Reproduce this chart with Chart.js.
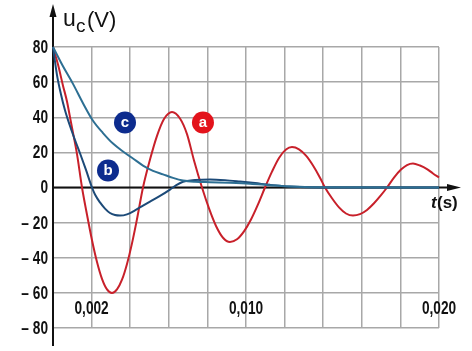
<!DOCTYPE html>
<html lang="de">
<head>
<meta charset="UTF-8">
<title>u_c(t)</title>
<script src="https://cdn.jsdelivr.net/npm/chart.js"></script>
<style>
  body { margin: 0; background: #fff; }
  #wrap { width: 472px; height: 351px; }
</style>
</head>
<body>
<div id="wrap"><canvas id="chart" width="472" height="351"></canvas></div>
<script>
// curve a (red)
const tA = [0, 0.000259, 0.000518, 0.000725, 0.000933, 0.001244, 0.001503, 0.001762, 0.002021, 0.002280,
  0.002539, 0.002798, 0.003057, 0.003316, 0.003575, 0.003834, 0.004093, 0.004352, 0.004663, 0.005026,
  0.005389, 0.005751, 0.006166, 0.006580, 0.006943, 0.007306, 0.007720, 0.008083, 0.008446, 0.008808,
  0.009171, 0.009534, 0.009896, 0.010259, 0.010622, 0.010984, 0.011347, 0.011710, 0.012073, 0.012383,
  0.012746, 0.013109, 0.013472, 0.013834, 0.014093, 0.014456, 0.014819, 0.015181, 0.015544, 0.015907,
  0.016269, 0.016632, 0.016995, 0.017306, 0.017668, 0.018031, 0.018342, 0.018653, 0.019016, 0.019378,
  0.019689, 0.020000];
const uA = [80, 70, 58, 49, 37, 19, 0, -15.5, -30, -42.4,
  -52, -58, -60, -58, -52.5, -43.5, -31.8, -18, 0, 15.9,
  29.4, 39, 43, 39.3, 30.4, 15.4, 0, -11.9, -21.9, -28.6,
  -31, -29.5, -25, -18.2, -9.6, 0, 9, 16.8, 21.6, 23,
  21.7, 18.1, 12.5, 5.6, 0, -6.1, -11.3, -14.8, -16, -15.2,
  -12.8, -9, -4.4, 0, 5.6, 10.2, 12.8, 13.7, 12.5, 10.5,
  8, 5.7];

// curve b (dark blue)
const tB = [0, 0.000207, 0.000415, 0.000622, 0.000881, 0.001140, 0.001399, 0.001710, 0.002021, 0.002176,
  0.002435, 0.002694, 0.002953, 0.003212, 0.003472, 0.003834, 0.004249, 0.004663, 0.005026, 0.005544,
  0.006062, 0.006373, 0.006736, 0.007358, 0.008135, 0.008912, 0.009689, 0.010466, 0.011244, 0.012280,
  0.013834, 0.020000];
const uB = [80, 64, 53, 44, 35, 27, 19.5, 10, 0, -4,
  -8.5, -12, -14.5, -15.7, -16, -15.3, -13, -10.3, -8, -4.8,
  -1.2, 1.2, 3.3, 4.3, 4.6, 4.2, 3.4, 2.5, 1.5, 0.5,
  0, 0];

// curve c (teal blue)
const tC = [0, 0.000518, 0.001036, 0.001554, 0.002073, 0.002591, 0.003109, 0.003627, 0.004145, 0.004663,
  0.005181, 0.005699, 0.006218, 0.006736, 0.007358, 0.008135, 0.009171, 0.010207, 0.011244, 0.012280,
  0.013316, 0.020000];
const uC = [80, 69, 59, 48, 38, 31, 25, 20.5, 16.5, 12.5,
  9.5, 7.5, 5.5, 4, 3.3, 3, 2.7, 2.2, 1.3, 0.5,
  0.2, 0];

const xLabels = [0.002, 0.010, 0.020];
const xLabelText = ['0,002', '0,010', '0,020'];

// curve tags: letter, time, voltage
const tags = [
  { text: 'c', t: 0.00373, u: 37, color: '#0d2c8e' },
  { text: 'b', t: 0.00285, u: 9.7, color: '#0d2c8e' },
  { text: 'a', t: 0.00777, u: 37, color: '#e3131b' }
];

const numFont = 'bold 18px "Liberation Sans", Arial, sans-serif';
const squeeze = 0.76;

function pts(ts, us) {
  return ts.map((t, i) => ({ x: t, y: us[i] }));
}

// condensed bold numbers
function narrowText(ctx, txt, px, py, align) {
  ctx.save();
  ctx.translate(px, py);
  ctx.scale(squeeze, 1);
  ctx.font = numFont;
  ctx.textAlign = align;
  ctx.fillText(txt, 0, 0);
  ctx.restore();
}

const overlay = {
  id: 'overlay',
  beforeDatasetsDraw(chart) {
    const { ctx, scales: { x, y } } = chart;
    const x0 = x.getPixelForValue(0);
    const y0 = y.getPixelForValue(0);
    ctx.save();
    ctx.strokeStyle = '#111';
    ctx.fillStyle = '#111';
    ctx.lineWidth = 2;
    // vertical axis with arrow
    ctx.beginPath();
    ctx.moveTo(x0, 346);
    ctx.lineTo(x0, 14);
    ctx.stroke();
    ctx.beginPath();
    ctx.moveTo(x0, 4);
    ctx.lineTo(x0 - 3.5, 17);
    ctx.lineTo(x0 + 3.5, 17);
    ctx.closePath();
    ctx.fill();
    // time axis with arrow
    ctx.beginPath();
    ctx.moveTo(x0, y0);
    ctx.lineTo(450, y0);
    ctx.stroke();
    ctx.beginPath();
    ctx.moveTo(461, y0);
    ctx.lineTo(447, y0 - 3.5);
    ctx.lineTo(447, y0 + 3.5);
    ctx.closePath();
    ctx.fill();
    ctx.restore();
  },
  afterDatasetsDraw(chart) {
    const { ctx, scales: { x, y } } = chart;
    ctx.save();
    ctx.fillStyle = '#111';
    ctx.textBaseline = 'middle';
    // y tick labels
    y.ticks.forEach(tk => {
      const v = tk.value;
      const txt = v < 0 ? '\u2013 ' + (-v) : String(v);
      narrowText(ctx, txt, 48, y.getPixelForValue(v) + 1, 'right');
    });
    // x tick labels inside the plot
    ctx.textBaseline = 'alphabetic';
    xLabels.forEach((v, i) => {
      narrowText(ctx, xLabelText[i], x.getPixelForValue(v), 314, 'center');
    });
    // axis titles
    ctx.textAlign = 'left';
    ctx.font = '23px "Liberation Sans", Arial, sans-serif';
    ctx.fillText('u', 63, 26);
    ctx.font = '19px "Liberation Sans", Arial, sans-serif';
    ctx.fillText('c', 76, 32);
    ctx.font = '22px "Liberation Sans", Arial, sans-serif';
    ctx.fillText('(V)', 87, 27);
    ctx.font = 'italic bold 17px "Liberation Sans", Arial, sans-serif';
    ctx.fillText('t', 431, 208);
    ctx.font = 'bold 17px "Liberation Sans", Arial, sans-serif';
    ctx.fillText('(s)', 437, 208);
    // curve tags
    tags.forEach(tg => {
      const px = x.getPixelForValue(tg.t);
      const py = y.getPixelForValue(tg.u);
      ctx.beginPath();
      ctx.arc(px, py, 11, 0, Math.PI * 2);
      ctx.fillStyle = tg.color;
      ctx.fill();
      ctx.fillStyle = '#fff';
      ctx.font = 'bold 15px "Liberation Sans", Arial, sans-serif';
      ctx.textAlign = 'center';
      ctx.textBaseline = 'middle';
      ctx.fillText(tg.text, px, py);
    });
    ctx.restore();
  }
};

new Chart(document.getElementById('chart'), {
  type: 'line',
  data: {
    datasets: [
      { label: 'c', data: pts(tC, uC), borderColor: '#2d6f93', borderWidth: 2 },
      { label: 'b', data: pts(tB, uB), borderColor: '#1c4a78', borderWidth: 2 },
      { label: 'a', data: pts(tA, uA), borderColor: '#c8202a', borderWidth: 2 }
    ]
  },
  options: {
    responsive: false,
    animation: false,
    devicePixelRatio: 1,
    layout: { padding: { top: 47, right: 33, left: 0, bottom: 0 } },
    elements: {
      point: { radius: 0 },
      line: { cubicInterpolationMode: 'monotone', fill: false }
    },
    datasets: { line: { clip: 8 } },
    plugins: {
      legend: { display: false },
      tooltip: { enabled: false }
    },
    scales: {
      x: {
        type: 'linear',
        min: 0,
        max: 0.02,
        ticks: { stepSize: 0.002, display: false },
        grid: { color: '#a8a8a8', lineWidth: 1.5, drawTicks: false },
        border: { display: false },
        afterFit(scale) { scale.height = 23; }
      },
      y: {
        min: -80,
        max: 80,
        ticks: { stepSize: 20, display: false },
        grid: { color: '#a8a8a8', lineWidth: 1.5, drawTicks: false },
        border: { display: false },
        afterFit(scale) { scale.width = 53; }
      }
    }
  },
  plugins: [overlay]
});
</script>
</body>
</html>
